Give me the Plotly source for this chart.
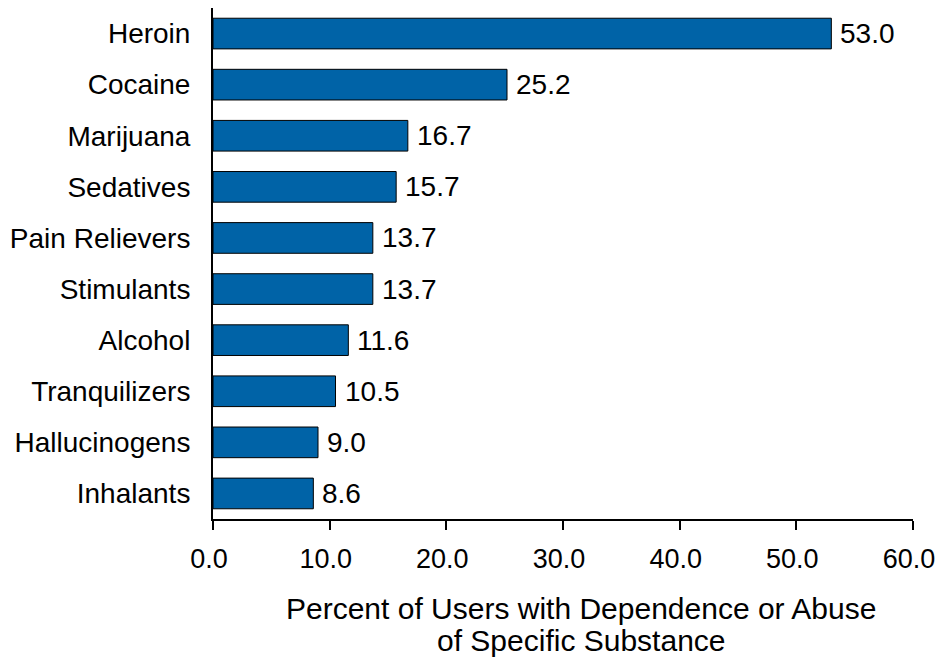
import plotly.graph_objects as go

categories = ["Heroin", "Cocaine", "Marijuana", "Sedatives", "Pain Relievers",
              "Stimulants", "Alcohol", "Tranquilizers", "Hallucinogens", "Inhalants"]
values = [53.0, 25.2, 16.7, 15.7, 13.7, 13.7, 11.6, 10.5, 9.0, 8.6]
x_ticks = [0, 10, 20, 30, 40, 50, 60]
x_tick_labels = ["0.0", "10.0", "20.0", "30.0", "40.0", "50.0", "60.0"]
x_title_lines = ["Percent of Users with Dependence or Abuse", "of Specific Substance"]

FONT = "Liberation Sans, Arial, sans-serif"

fig = go.Figure(go.Bar(
    x=values, y=categories, orientation="h",
    marker=dict(color="#0063A7", line=dict(color="black", width=1)),
    width=0.6,
    cliponaxis=False,
))

annotations = [
    dict(x=v, y=c, xref="x", yref="y", text=f"{v:.1f}", showarrow=False,
         xanchor="left", yanchor="middle", xshift=7, font=dict(size=28))
    for c, v in zip(categories, values)
]
annotations += [
    dict(text=x_title_lines[0], xref="paper", yref="paper", x=0.526, y=-0.176,
         xanchor="center", yanchor="middle", showarrow=False, font=dict(size=30)),
    dict(text=x_title_lines[1], xref="paper", yref="paper", x=0.526, y=-0.2387,
         xanchor="center", yanchor="middle", showarrow=False, font=dict(size=30)),
]

fig.update_layout(
    width=929, height=649,
    margin=dict(l=205, r=24, t=0, b=138, autoexpand=False),
    paper_bgcolor="white", plot_bgcolor="white",
    showlegend=False,
    font=dict(family=FONT, size=28, color="black"),
    xaxis=dict(range=[0, 60], tickvals=x_ticks, ticktext=x_tick_labels,
               showgrid=False, zeroline=False, showline=True, linecolor="black",
               linewidth=2, ticks="outside", ticklen=9, tickwidth=2, tickcolor="black",
               ticklabelstandoff=6, ticklabelshift=-4, ticklabeloverflow="allow",
               tickfont=dict(size=27), automargin=False),
    yaxis=dict(categoryorder="array", categoryarray=categories, autorange="reversed",
               showgrid=False, zeroline=False, showline=True, linecolor="black",
               linewidth=2, ticks="", ticklabelstandoff=15, tickfont=dict(size=28),
               automargin=False),
    annotations=annotations,
)

fig.write_html("out.html")
